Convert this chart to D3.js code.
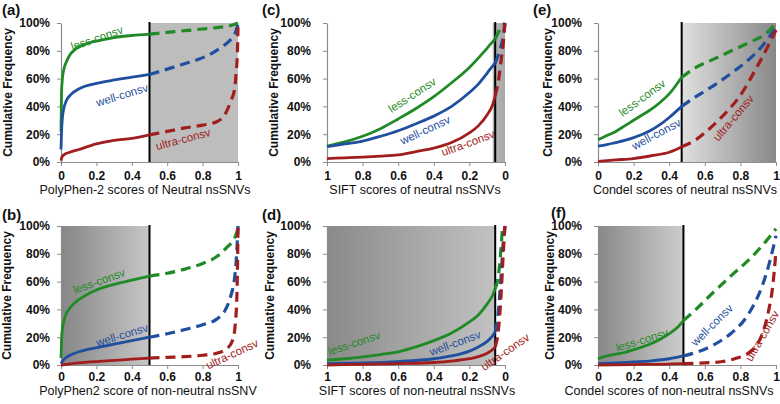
<!DOCTYPE html>
<html><head><meta charset="utf-8">
<script src="https://cdn.jsdelivr.net/npm/d3@7"></script>
<style>
html,body{margin:0;padding:0;background:#fff;}
svg{display:block;font-family:"Liberation Sans",Arial,sans-serif;}
</style></head>
<body>
<svg id="chart" width="780" height="404"></svg>
<script>
// ---------- tick labels ----------
const xTicks = [0, 0.2, 0.4, 0.6, 0.8, 1];
const xTickLabels = ["0", "0.2", "0.4", "0.6", "0.8", "1"];
const yTicks = [0, 20, 40, 60, 80, 100];
const yTickLabels = ["0%", "20%", "40%", "60%", "80%", "100%"];
const seriesNames = ["less-consv", "well-consv", "ultra-consv"];

// ---------- data: [score, cumulative %] ----------
// (a) PolyPhen-2, neutral
const a_less  = [[0,22],[0.003,50],[0.008,60],[0.015,66],[0.03,72],[0.05,77],[0.08,81],[0.13,84.5],[0.2,87],[0.3,89.5],[0.4,91],[0.5,92],[0.6,93.3],[0.7,94.5],[0.8,95.7],[0.9,97],[0.96,98.2],[1,100]];
const a_well  = [[0,9],[0.003,22],[0.008,32],[0.015,38],[0.03,44],[0.06,49],[0.1,52.5],[0.2,56.5],[0.3,59],[0.4,61],[0.5,63],[0.58,66],[0.68,70],[0.77,73.5],[0.85,78],[0.9,82],[0.95,87],[0.98,91.5],[1,99]];
const a_ultra = [[0,1],[0.005,3.5],[0.02,5.5],[0.05,7],[0.1,9],[0.2,13],[0.3,15.5],[0.4,17],[0.5,19.5],[0.6,22],[0.7,24.5],[0.8,26.5],[0.88,29],[0.93,35],[0.96,44],[0.98,52],[0.99,65],[0.997,80],[1,97]];
// (c) SIFT, neutral
const c_less  = [[1,11.5],[0.9,14.5],[0.8,18.5],[0.7,24],[0.6,31],[0.5,38.5],[0.4,47],[0.3,57],[0.2,68],[0.12,79],[0.08,85],[0.055,88.5],[0.03,95],[0,100]];
const c_well  = [[1,11],[0.9,13],[0.8,15],[0.7,18.5],[0.6,22.5],[0.5,27.5],[0.4,33],[0.3,40],[0.2,50],[0.15,56],[0.1,64],[0.07,69],[0.055,71],[0.03,80],[0.015,87],[0,100]];
const c_ultra = [[1,2.5],[0.9,3],[0.8,3.5],[0.7,4.2],[0.6,5.2],[0.5,7.5],[0.4,10],[0.3,14],[0.2,21],[0.15,26],[0.1,34],[0.07,41],[0.055,47.5],[0.035,60],[0.02,75],[0.01,85],[0,100]];
// (e) Condel, neutral
const e_less  = [[0,16],[0.05,19],[0.1,22],[0.15,26],[0.2,30],[0.25,34],[0.3,38],[0.35,43],[0.4,49],[0.47,61],[0.55,68],[0.65,74],[0.75,80],[0.85,86],[0.95,93],[1,100]];
const e_well  = [[0,11.5],[0.05,12.5],[0.1,14],[0.15,15.5],[0.2,17.5],[0.25,20],[0.3,23],[0.35,27],[0.4,32],[0.47,40],[0.55,47],[0.65,55],[0.75,64],[0.85,74],[0.92,83],[1,97]];
const e_ultra = [[0,0.5],[0.1,1.5],[0.2,2.5],[0.3,4.5],[0.4,7],[0.47,11],[0.55,16],[0.6,21],[0.7,33],[0.8,48],[0.9,70],[0.95,82],[1,95]];
// (b) PolyPhen2, non-neutral
const b_less  = [[0,5],[0.003,18],[0.008,26],[0.015,31],[0.03,37],[0.05,41],[0.08,45],[0.13,49.5],[0.2,54],[0.3,58],[0.4,61],[0.5,64],[0.6,66],[0.7,69],[0.8,73],[0.88,78],[0.94,85],[0.98,91],[1,98]];
const b_well  = [[0,1],[0.01,3],[0.03,5.5],[0.06,7.5],[0.1,9.5],[0.2,12.5],[0.3,15],[0.4,17.5],[0.5,20],[0.6,22.5],[0.7,25.5],[0.8,29],[0.88,33],[0.93,40],[0.96,50],[0.98,62],[0.99,75],[1,100]];
const b_ultra = [[0,0],[0.1,1.5],[0.2,2.5],[0.3,3.3],[0.4,4.2],[0.5,5],[0.6,5.5],[0.7,6],[0.8,7],[0.88,8.5],[0.94,12],[0.97,18],[0.985,30],[0.995,55],[1,100]];
// (d) SIFT, non-neutral
const d_less  = [[1,3.5],[0.9,4.5],[0.8,5.8],[0.7,7.5],[0.6,9.5],[0.5,13],[0.4,17.5],[0.3,23],[0.2,31],[0.15,36],[0.1,44],[0.07,50],[0.055,55],[0.04,62],[0.028,75],[0.02,88],[0.014,98],[0,100]];
const d_well  = [[1,1],[0.8,1.5],[0.6,2.5],[0.4,4.5],[0.3,6.5],[0.2,10],[0.15,13],[0.1,17],[0.07,21],[0.055,24],[0.04,35],[0.03,50],[0.02,68],[0.01,88],[0,100]];
const d_ultra = [[1,0],[0.8,0.5],[0.6,1],[0.4,1.8],[0.3,2.8],[0.2,4.5],[0.15,6],[0.1,8.5],[0.07,11],[0.055,13],[0.04,22],[0.03,35],[0.02,55],[0.01,80],[0,100]];
// (f) Condel, non-neutral
const f_less  = [[0,4.5],[0.05,6.5],[0.1,7.8],[0.15,9],[0.2,11],[0.25,13],[0.3,15.5],[0.35,18.5],[0.4,22.5],[0.45,27.5],[0.48,32],[0.55,40],[0.65,52.5],[0.75,64.5],[0.85,76],[0.95,90],[1,98]];
const f_well  = [[0,1],[0.1,1.5],[0.2,2.2],[0.3,3],[0.4,4.5],[0.48,6.5],[0.55,9],[0.65,14.5],[0.75,23],[0.82,32],[0.87,42],[0.92,56],[0.96,72],[1,93]];
const f_ultra = [[0,0],[0.2,0.3],[0.4,0.7],[0.48,1],[0.6,1.5],[0.7,2.5],[0.78,5],[0.85,9],[0.9,16],[0.93,25],[0.96,40],[0.98,55],[1,82]];

// label anchor points [score, %]
const a_labels = [[0.203,89.2],[0.345,48.2],[0.69,16.5]];
const c_labels = [[0.522,48.2],[0.449,23],[0.208,13.7]];
const e_labels = [[0.248,46.2],[0.327,20.1],[0.76,31.7]];
const b_labels = [[0.215,60.4],[0.345,21.6],[0.966,7.9]];
const d_labels = [[0.848,15.8],[0.281,15.8],[0.0,9.4]];
const f_labels = [[0.247,18],[0.64,28.8],[0.922,20.9]];

// thresholds and shaded ranges
const thresholds = {a:0.5, c:0.055, e:0.47, b:0.5, d:0.055, f:0.48};
const shadeRanges = {a:[0.5,1], c:[0.069,0], e:[0.47,1], b:[0,0.5], d:[1,0.055], f:[0,0.48]};

// ---------- layout / style ----------
const colors = ["#1f8a26", "#1f4f9e", "#a21d1d"];
const cols = [[61,238],[327,505],[598,776]];
const rows = [[23,162],[226,365]];

const panels = [
  {id:"a", col:0,row:0, rev:false, series:[a_less,a_well,a_ultra], labels:a_labels, angles:[-19,-17,-15],
   shade:["#bdbdbd","#bdbdbd"], xTitle:"PolyPhen-2 scores of Neutral nsSNVs", xTitleX:145, yGap:11, yTitleX:8, tagX:2, tagY:15},
  {id:"c", col:1,row:0, rev:true, series:[c_less,c_well,c_ultra], labels:c_labels, angles:[-33,-25,-20],
   shade:["#b8b8b8","#a8a8a8"], xTitle:"SIFT scores of neutral nsSNVs", xTitleX:415, yGap:16, yTitleX:274, tagX:262, tagY:15},
  {id:"e", col:2,row:0, rev:false, series:[e_less,e_well,e_ultra], labels:e_labels, angles:[-36,-28,-50],
   shade:["#e0e0e0","#888888"], xTitle:"Condel scores of neutral nsSNVs", xTitleX:685, yGap:16, yTitleX:548, tagX:533, tagY:15},
  {id:"b", col:0,row:1, rev:false, series:[b_less,b_well,b_ultra], labels:b_labels, angles:[-20,-17,-25],
   shade:["#868686","#c6c6c6"], xTitle:"PolyPhen2 score of non-neutral nsSNV", xTitleX:148, yGap:11, yTitleX:7, tagX:2, tagY:220},
  {id:"d", col:1,row:1, rev:true, series:[d_less,d_well,d_ultra], labels:d_labels, angles:[-18,-20,-35],
   shade:["#8a8a8a","#c2c2c2"], xTitle:"SIFT scores of non-neutral nsSNVs", xTitleX:417, yGap:16, yTitleX:270, tagX:262, tagY:220},
  {id:"f", col:2,row:1, rev:false, series:[f_less,f_well,f_ultra], labels:f_labels, angles:[-17,-45,-60],
   shade:["#888888","#cdcdcd"], xTitle:"Condel scores of non-neutral nsSNVs", xTitleX:669, yGap:16, yTitleX:550, tagX:551, tagY:218}
];

const svg = d3.select("#chart");
const defs = svg.append("defs");

panels.forEach(p => {
  const [x0,x1] = cols[p.col];
  const [yt,yb] = rows[p.row];
  const x = d3.scaleLinear().domain(p.rev ? [1,0] : [0,1]).range([x0,x1]);
  const y = d3.scaleLinear().domain([0,100]).range([yb,yt]);
  const g = svg.append("g");
  const thr = thresholds[p.id];
  const sr = shadeRanges[p.id];

  // shaded region with gradient
  const sx0 = Math.min(x(sr[0]), x(sr[1])), sx1 = Math.max(x(sr[0]), x(sr[1]));
  const grad = defs.append("linearGradient").attr("id","grad-"+p.id)
    .attr("gradientUnits","userSpaceOnUse").attr("x1",sx0).attr("x2",sx1).attr("y1",0).attr("y2",0);
  grad.append("stop").attr("offset","0").attr("stop-color",p.shade[0]);
  grad.append("stop").attr("offset","1").attr("stop-color",p.shade[1]);
  g.append("rect").attr("x",sx0).attr("y",yt).attr("width",sx1-sx0).attr("height",yb-yt)
    .attr("fill","url(#grad-"+p.id+")");

  // axes
  const ax = g.append("g").attr("transform",`translate(0,${yb})`)
    .call(d3.axisBottom(x).tickValues(xTicks).tickFormat((d,i)=>xTickLabels[i]).tickSize(4).tickSizeOuter(0).tickPadding(3));
  const ay = g.append("g").attr("transform",`translate(${x0},0)`)
    .call(d3.axisLeft(y).tickValues(yTicks).tickFormat((d,i)=>yTickLabels[i]).tickSize(4).tickSizeOuter(0).tickPadding(p.yGap-4));
  [ax,ay].forEach(a => {
    a.select(".domain").attr("stroke","#8c8c8c").attr("stroke-width",1.2);
    a.selectAll(".tick line").attr("stroke","#8c8c8c");
    a.selectAll(".tick text").attr("font-family","'Liberation Sans',Arial,sans-serif")
      .attr("font-weight","bold").attr("font-size",12).attr("fill","#111");
  });
  ax.selectAll(".tick text").attr("dy", p.row===0 ? "0.9em" : "0.75em");

  // threshold line
  g.append("line").attr("x1",x(thr)).attr("x2",x(thr)).attr("y1",yt-1).attr("y2",yb)
    .attr("stroke","#000").attr("stroke-width",2);

  // curves
  const line = d3.line().x(d=>x(d[0])).y(d=>y(d[1])).curve(d3.curveMonotoneX);
  const neutral = d => p.rev ? d[0] >= thr : d[0] <= thr;
  p.series.forEach((s,i) => {
    const pts = s.slice().sort((u,v)=>x(u[0])-x(v[0]));
    const solid = pts.filter(d => neutral(d));
    const dashed = pts.filter(d => !neutral(d) || Math.abs(d[0]-thr)<1e-9);
    g.append("path").attr("d",line(dashed)).attr("fill","none").attr("stroke",colors[i])
      .attr("stroke-width",3.2).attr("stroke-dasharray","10,6");
    g.append("path").attr("d",line(solid)).attr("fill","none").attr("stroke",colors[i])
      .attr("stroke-width",2.8).attr("stroke-linejoin","round");
  });

  // series labels
  p.labels.forEach((l,i) => {
    g.append("text").attr("transform",`translate(${x(l[0])},${y(l[1])}) rotate(${p.angles[i]})`)
      .attr("text-anchor","middle").attr("dy","0.35em").attr("font-size",11.5)
      .attr("fill",colors[i]).text(seriesNames[i]);
  });

  // x title
  g.append("text").attr("x",p.xTitleX).attr("y", yb + (p.row===0 ? 32 : 30))
    .attr("text-anchor","middle").attr("font-size",12.5).attr("fill","#111").text(p.xTitle);
  // y title
  g.append("text").attr("transform",`translate(${p.yTitleX+4},${(yt+yb)/2}) rotate(-90)`)
    .attr("text-anchor","middle").attr("font-weight","bold").attr("font-size",12).attr("fill","#111")
    .text("Cumulative Frequency");
  // panel tag
  g.append("text").attr("x",p.tagX).attr("y", p.tagY)
    .attr("font-weight","bold").attr("font-size",15).attr("fill","#111").text("("+p.id+")");
});
</script>
</body></html>
